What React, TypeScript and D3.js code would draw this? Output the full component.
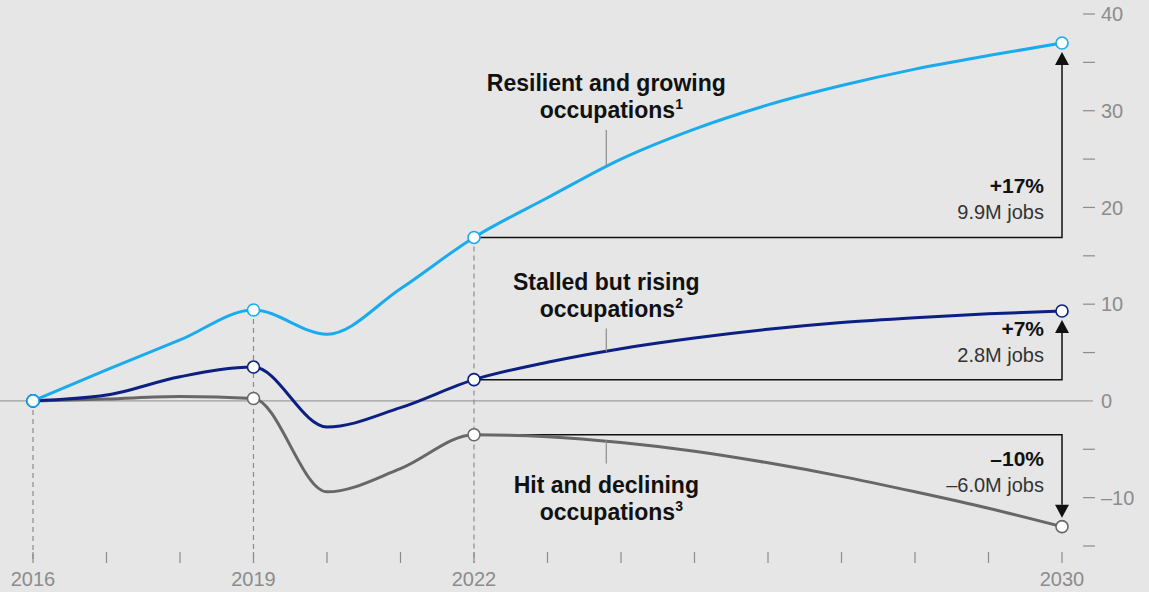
import React from "react";
import * as d3 from "d3";

const years = [2016, 2017, 2018, 2019, 2020, 2021, 2022, 2023, 2024, 2025, 2026, 2027, 2028, 2029, 2030];
const resilient = [0, 3.2, 6.3, 9.4, 6.9, 11.6, 16.9, 21.0, 25.0, 28.1, 30.6, 32.6, 34.3, 35.7, 37.0];
const stalled = [0, 0.6, 2.5, 3.5, -2.7, -0.7, 2.2, 4.0, 5.4, 6.5, 7.4, 8.1, 8.6, 9.0, 9.3];
const hit = [0, 0.2, 0.45, 0.25, -9.4, -7.0, -3.5, -3.7, -4.3, -5.2, -6.4, -7.8, -9.4, -11.1, -13.0];

const markerYears = [2016, 2019, 2022, 2030];
const xTickLabels = [2016, 2019, 2022, 2030];
const yTickLabels = [-10, 0, 10, 20, 30, 40];
const yMinorTicks = [-15, -5, 5, 15, 25, 35];

const seriesNames = ["Resilient and growing", "Stalled but rising", "Hit and declining"];
const seriesNotes = ["occupations", "occupations", "occupations"];
const footnotes = ["1", "2", "3"];
const changePct = ["+17%", "+7%", "\u201310%"];
const changeJobs = ["9.9M jobs", "2.8M jobs", "\u20136.0M jobs"];
// where each label's leader line touches its curve
const leaderYear = 2023.8;
const leaderValue = [24.4, 5.1, -4.1];

const W = 1149;
const H = 592;
const colors = ["#1aabef", "#0b2080", "#676767"];
const bg = "#e6e6e6";
const axisGrey = "#8c8c8c";
const numFont = "'Liberation Sans', Arial, sans-serif";
const labelFont = "'Liberation Sans Narrow', 'Liberation Sans', Arial, sans-serif";

const x = d3.scaleLinear().domain([2016, 2030]).range([33, 1062]);
const y = d3.scaleLinear().domain([-15, 40]).range([546, 14]);

const line = d3
  .line<number>()
  .x((_, i) => x(years[i]))
  .y((d) => y(d))
  .curve(d3.curveMonotoneX);

const App: React.FC = () => {
  document.body.style.margin = "0";
  const all = [resilient, stalled, hit];
  const i22 = years.indexOf(2022);
  const i30 = years.indexOf(2030);
  const xEnd = x(2030);

  return (
    <svg width={W} height={H} style={{ display: "block", background: bg }}>
      <rect width={W} height={H} fill={bg} />

      {/* zero line */}
      <line x1={0} x2={1093} y1={y(0)} y2={y(0)} stroke={axisGrey} strokeWidth={1} />

      {/* right axis */}
      {[...yTickLabels.filter((t) => t !== 0), ...yMinorTicks].map((t) => (
        <line key={"yt" + t} x1={1083} x2={1095} y1={y(t)} y2={y(t)} stroke={axisGrey} strokeWidth={1.2} />
      ))}
      {yTickLabels.map((t) => (
        <text
          key={"yl" + t}
          x={1101}
          y={y(t)}
          dy="0.36em"
          fontFamily={numFont}
          fontSize={20}
          fill={axisGrey}
        >
          {t < 0 ? "\u2013" + Math.abs(t) : t}
        </text>
      ))}

      {/* bottom ticks */}
      {years.map((yr) => (
        <line key={"xt" + yr} x1={x(yr)} x2={x(yr)} y1={552} y2={563} stroke={axisGrey} strokeWidth={1.2} />
      ))}
      {xTickLabels.map((yr) => (
        <text
          key={"xl" + yr}
          x={x(yr)}
          y={586}
          textAnchor="middle"
          fontFamily={numFont}
          fontSize={20}
          fill={axisGrey}
        >
          {yr}
        </text>
      ))}

      {/* dashed guides */}
      {markerYears
        .filter((yr) => yr !== 2030)
        .map((yr) => {
          const i = years.indexOf(yr);
          const top = d3.max(all, (s) => s[i]) as number;
          return (
            <line
              key={"dg" + yr}
              x1={x(yr)}
              x2={x(yr)}
              y1={y(top)}
              y2={563}
              stroke={axisGrey}
              strokeWidth={1.2}
              strokeDasharray="5 4"
            />
          );
        })}

      {/* change brackets */}
      {all.map((s, k) => {
        const y0 = y(s[i22]);
        const y1 = y(s[i30]);
        const up = y1 < y0;
        const tip = up ? y1 + 9 : y1 - 9;
        const base = up ? tip + 13 : tip - 13;
        return (
          <g key={"br" + k}>
            <path
              d={`M${x(2022)},${y0}H${xEnd}V${base}`}
              fill="none"
              stroke="#111"
              strokeWidth={1.5}
            />
            <path d={`M${xEnd},${tip}L${xEnd - 7},${base}L${xEnd + 7},${base}Z`} fill="#111" />
            <text
              x={xEnd - 18}
              y={up ? y0 - 44 : y0 + 31}
              textAnchor="end"
              fontFamily={numFont}
              fontWeight="bold"
              fontSize={21}
              fill="#111"
            >
              {changePct[k]}
            </text>
            <text
              x={xEnd - 18}
              y={up ? y0 - 18 : y0 + 57}
              textAnchor="end"
              fontFamily={numFont}
              fontSize={20}
              fill="#333"
            >
              {changeJobs[k]}
            </text>
          </g>
        );
      })}

      {/* series lines */}
      {[hit, stalled, resilient].map((s, k) => (
        <path
          key={"ln" + k}
          d={line(s) as string}
          fill="none"
          stroke={colors[2 - k]}
          strokeWidth={3}
          strokeLinejoin="round"
        />
      ))}

      {/* markers */}
      {[hit, stalled, resilient].map((s, k) =>
        markerYears.map((yr) => {
          const i = years.indexOf(yr);
          return (
            <circle
              key={"m" + k + yr}
              cx={x(yr)}
              cy={y(s[i])}
              r={6}
              fill="#fff"
              stroke={colors[2 - k]}
              strokeWidth={1.6}
            />
          );
        })
      )}

      {/* series labels */}
      {seriesNames.map((name, k) => {
        const lx = x(leaderYear);
        const end = y(leaderValue[k]);
        const above = k < 2;
        const len = k === 0 ? 35 : 23;
        const lineTop = above ? end - len : end;
        const lineBot = above ? end : end + len;
        const b1 = above ? lineTop - 39 : lineBot + 29;
        return (
          <g key={"lab" + k}>
            <line x1={lx} x2={lx} y1={lineTop} y2={lineBot} stroke={axisGrey} strokeWidth={1.2} />
            <text
              x={lx}
              textAnchor="middle"
              fontFamily={labelFont}
              fontWeight="bold"
              fontSize={23}
              fill="#111"
            >
              <tspan x={lx} y={b1}>
                {name}
              </tspan>
              <tspan x={lx + 5} y={b1 + 27}>
                {seriesNotes[k]}
                <tspan fontSize={14} dy={-9}>
                  {footnotes[k]}
                </tspan>
              </tspan>
            </text>
          </g>
        );
      })}
    </svg>
  );
};

export default App;
